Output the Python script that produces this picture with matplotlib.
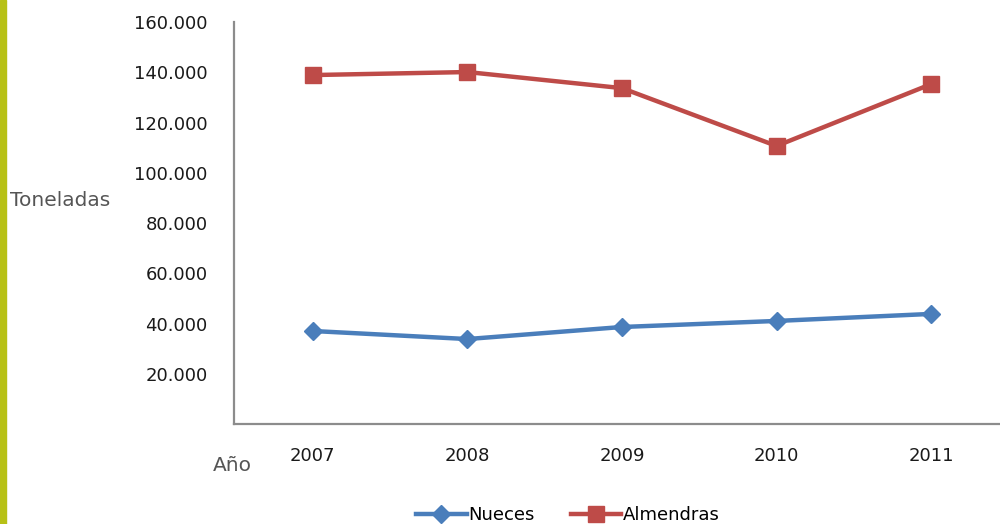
import matplotlib.pyplot as plt
from matplotlib.lines import Line2D
from matplotlib.ticker import FuncFormatter

years = ["2007", "2008", "2009", "2010", "2011"]
nueces = [37100, 33900, 38700, 41100, 43900]
almendras = [138900, 140100, 133700, 110700, 135300]
y_ticks = [20000, 40000, 60000, 80000, 100000, 120000, 140000, 160000]

blue = "#4a7ebb"
red = "#be4b48"
axis_grey = "#8c8c8c"

fig = plt.figure(figsize=(10, 5.24), dpi=100)

# accent bar on the left edge
fig.patches.append(plt.Rectangle((0, 0), 0.006, 1, transform=fig.transFigure,
                                 color="#b7c116", zorder=0))

ax = fig.add_axes([0.234, 0.1903, 0.776, 0.7677])
x = range(len(years))
ax.plot(x, nueces, color=blue, lw=3.2, marker="D", ms=9, mec=blue, mfc=blue,
        label="Nueces")
ax.plot(x, almendras, color=red, lw=3.2, marker="s", ms=11, mec=red, mfc=red,
        label="Almendras")

ax.set_xlim(-0.51, 4.51)
ax.set_ylim(0, 160000)
ax.set_xticks(list(x))
ax.set_xticklabels(years)
ax.set_yticks(y_ticks)
ax.yaxis.set_major_formatter(FuncFormatter(lambda v, p: f"{int(v):,}".replace(",", ".")))

for s in ("top", "right"):
    ax.spines[s].set_visible(False)
for s in ("left", "bottom"):
    ax.spines[s].set_color(axis_grey)
    ax.spines[s].set_linewidth(1.6)
ax.tick_params(length=0, labelsize=13, colors="#1a1a1a")
ax.tick_params(axis="y", pad=19)
ax.tick_params(axis="x", pad=16)

fig.text(0.010, 0.618, "Toneladas", fontsize=14.5, color="#555555",
         ha="left", va="center")
fig.text(0.213, 0.112, "Año", fontsize=14.5, color="#555555",
         ha="left", va="center")

handles = [Line2D([], [], color=blue, lw=3.2, marker="D", ms=9),
           Line2D([], [], color=red, lw=3.2, marker="s", ms=11)]
fig.legend(handles, ["Nueces", "Almendras"], loc="center",
           bbox_to_anchor=(0.568, 0.017), ncol=2, frameon=False, fontsize=13,
           handlelength=2.8, handletextpad=0.1, columnspacing=2.0)

fig.savefig("out.png", dpi=100)
